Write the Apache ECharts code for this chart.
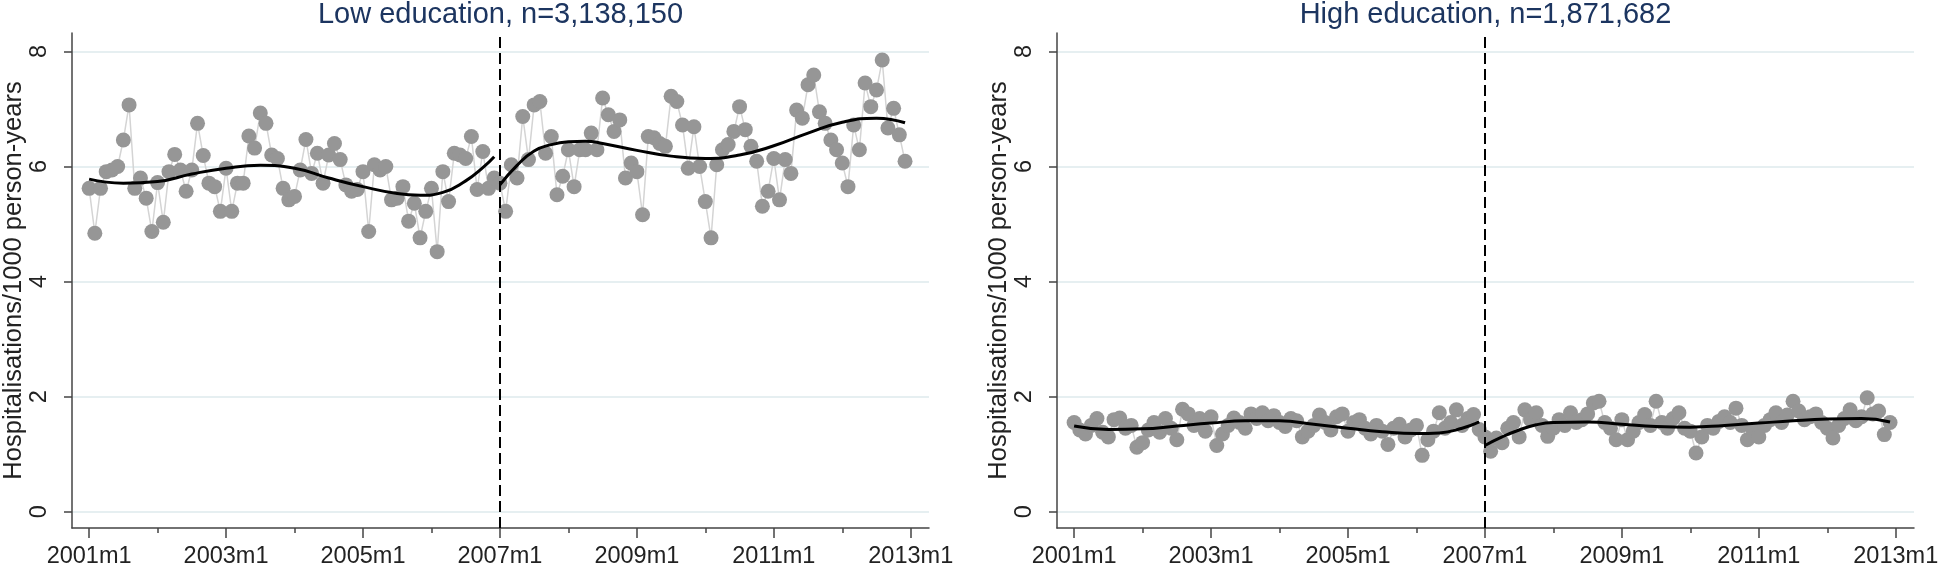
<!DOCTYPE html>
<html><head><meta charset="utf-8">
<script src="https://cdn.jsdelivr.net/npm/echarts@6/dist/echarts.min.js"></script>
<style>html,body{margin:0;padding:0;background:#fff}#c{width:1943px;height:572px}</style>
</head><body><div id="c"></div>
<script>
const panelTitles = ['Low education, n=3,138,150', 'High education, n=1,871,682'];
const yAxisTitle = 'Hospitalisations/1000 person-years';
const xTickMonths = [0, 24, 48, 72, 96, 120, 144];
const xTickLabels = ['2001m1', '2003m1', '2005m1', '2007m1', '2009m1', '2011m1', '2013m1'];
const xMinorTickMonths = [12, 36, 60, 84, 108, 132];
const yTicks = [0, 2, 4, 6, 8];
const interruptionMonth = 72;

// monthly rates, 2001m1 .. 2012m12
const lowEdRates = [
  5.62, 4.84, 5.62, 5.91, 5.94, 6.00, 6.46, 7.07, 5.62, 5.80,
  5.45, 4.87, 5.72, 5.03, 5.91, 6.21, 5.94, 5.57, 5.94, 6.75,
  6.19, 5.71, 5.65, 5.22, 5.97, 5.22, 5.71, 5.71, 6.53, 6.32,
  6.93, 6.75, 6.20, 6.14, 5.62, 5.42, 5.48, 5.94, 6.47, 5.88,
  6.23, 5.71, 6.20, 6.40, 6.12, 5.68, 5.57, 5.60, 5.91, 4.87,
  6.03, 5.94, 6.00, 5.42, 5.45, 5.65, 5.05, 5.36, 4.76, 5.22,
  5.62, 4.52, 5.91, 5.39, 6.23, 6.20, 6.14, 6.52, 5.60, 6.26,
  5.62, 5.80, 5.71, 5.22, 6.03, 5.80, 6.87, 6.12, 7.07, 7.13,
  6.23, 6.52, 5.51, 5.83, 6.29, 5.65, 6.29, 6.29, 6.58, 6.29,
  7.19, 6.90, 6.61, 6.81, 5.80, 6.06, 5.91, 5.16, 6.52, 6.50,
  6.40, 6.35, 7.22, 7.13, 6.72, 5.97, 6.69, 6.00, 5.39, 4.76,
  6.03, 6.29, 6.38, 6.61, 7.04, 6.64, 6.35, 6.09, 5.31, 5.57,
  6.14, 5.42, 6.12, 5.88, 6.98, 6.84, 7.42, 7.59, 6.95, 6.75,
  6.46, 6.29, 6.06, 5.65, 6.72, 6.29, 7.45, 7.04, 7.33, 7.85,
  6.67, 7.01, 6.55, 6.09
];
const highEdRates = [
  1.55, 1.42, 1.35, 1.50, 1.62, 1.38, 1.30, 1.60, 1.63, 1.45,
  1.50, 1.12, 1.20, 1.42, 1.55, 1.38, 1.62, 1.45, 1.25, 1.78,
  1.70, 1.50, 1.62, 1.40, 1.65, 1.15, 1.35, 1.50, 1.63, 1.55,
  1.45, 1.70, 1.62, 1.72, 1.58, 1.67, 1.55, 1.48, 1.62, 1.58,
  1.30, 1.40, 1.50, 1.68, 1.55, 1.42, 1.65, 1.70, 1.40, 1.55,
  1.60, 1.45, 1.35, 1.50, 1.40, 1.17, 1.45, 1.52, 1.30, 1.42,
  1.50, 0.98, 1.25, 1.40, 1.72, 1.45, 1.55, 1.77, 1.50, 1.62,
  1.69, 1.43, 1.30, 1.05, 1.28, 1.20, 1.45, 1.55, 1.30, 1.77,
  1.60, 1.72, 1.50, 1.31, 1.45, 1.60, 1.50, 1.72, 1.55, 1.60,
  1.70, 1.89, 1.92, 1.55, 1.45, 1.25, 1.60, 1.25, 1.40, 1.55,
  1.69, 1.50, 1.92, 1.55, 1.45, 1.62, 1.72, 1.45, 1.40, 1.02,
  1.30, 1.50, 1.45, 1.57, 1.65, 1.55, 1.80, 1.50, 1.25, 1.42,
  1.30, 1.50, 1.60, 1.72, 1.55, 1.68, 1.92, 1.75, 1.60, 1.65,
  1.70, 1.55, 1.45, 1.28, 1.50, 1.62, 1.77, 1.58, 1.65, 1.98,
  1.70, 1.75, 1.34, 1.55
];

// fitted segmented trend, [month index, value]
const lowEdFitPre = [[0,5.78],[6,5.71],[12,5.74],[18,5.87],[24,5.97],[30,6.02],[36,5.97],[42,5.80],[48,5.65],[54,5.53],[58,5.50],[62,5.55],[66,5.75],[69,5.98],[71,6.17]];
const lowEdFitPost = [[72,5.68],[75,6.02],[78,6.27],[81,6.38],[84,6.43],[87,6.44],[90,6.40],[96,6.28],[102,6.18],[108,6.14],[114,6.20],[120,6.36],[126,6.58],[132,6.77],[138,6.84],[143,6.76]];
const highEdFitPre = [[0,1.49],[6,1.43],[12,1.44],[18,1.49],[24,1.54],[30,1.58],[36,1.58],[42,1.52],[48,1.45],[54,1.39],[60,1.36],[64,1.37],[68,1.45],[71,1.56]];
const highEdFitPost = [[72,1.15],[75,1.30],[78,1.42],[81,1.51],[84,1.55],[90,1.56],[96,1.52],[102,1.48],[108,1.47],[114,1.50],[120,1.54],[126,1.58],[132,1.61],[138,1.62],[143,1.56]];

const panels = [
  {title: panelTitles[0], rates: lowEdRates, pre: lowEdFitPre, post: lowEdFitPost},
  {title: panelTitles[1], rates: highEdRates, pre: highEdFitPre, post: highEdFitPost}
];

const FONT = 'Liberation Sans, Arial, sans-serif';
const AXIS_COLOR = '#444';
const TEXT_COLOR = '#222';
const gridLefts = [72, 1057];
const gridWidth = 857;

const option = {
  animation: false,
  backgroundColor: '#fff',
  title: [], grid: [], xAxis: [], yAxis: [], series: []
};

panels.forEach((p, i) => {
  option.title.push({
    text: p.title,
    left: gridLefts[i] + gridWidth / 2,
    top: 0,
    padding: 0,
    textAlign: 'center',
    textStyle: {fontFamily: FONT, fontSize: 29, fontWeight: 'normal', color: '#1c3560'}
  });
  option.grid.push({left: gridLefts[i], width: gridWidth, top: 33, bottom: 44, containLabel: false});
  option.xAxis.push({
    type: 'value', gridIndex: i, min: -3, max: 147.2, position: 'bottom',
    axisLine: {show: true, onZero: false, lineStyle: {color: AXIS_COLOR, width: 1.5}},
    axisTick: {show: true, customValues: xTickMonths, length: 10, lineStyle: {color: AXIS_COLOR, width: 1.5}},
    axisLabel: {show: true, customValues: xTickMonths, margin: 17,
      formatter: v => xTickLabels[xTickMonths.indexOf(Math.round(v))] || '',
      fontFamily: FONT, fontSize: 23.5, color: TEXT_COLOR},
    splitLine: {show: false}
  });
  option.xAxis.push({
    type: 'value', gridIndex: i, min: -3, max: 147.2, position: 'bottom',
    axisLine: {show: false, onZero: false},
    axisTick: {show: true, customValues: xMinorTickMonths, length: 5, lineStyle: {color: AXIS_COLOR, width: 1.5}},
    axisLabel: {show: false},
    splitLine: {show: false}
  });
  option.yAxis.push({
    type: 'value', gridIndex: i, min: -0.283, max: 8.32,
    name: yAxisTitle, nameLocation: 'middle', nameRotate: 90, nameGap: 39,
    nameTextStyle: {fontFamily: FONT, fontSize: 25.5, color: TEXT_COLOR},
    axisLine: {show: true, onZero: false, lineStyle: {color: AXIS_COLOR, width: 1.5}},
    axisTick: {show: true, customValues: yTicks, length: 8, lineStyle: {color: AXIS_COLOR, width: 1.5}},
    axisLabel: {show: true, customValues: yTicks, rotate: 90, margin: 20,
      fontFamily: FONT, fontSize: 23.5, color: TEXT_COLOR},
    splitLine: {show: true, lineStyle: {color: '#e6eff1', width: 2}}
  });
  option.series.push({
    type: 'line', xAxisIndex: i * 2, yAxisIndex: i,
    data: p.rates.map((v, m) => [m, v]),
    symbol: 'circle', symbolSize: 15, showSymbol: true,
    itemStyle: {color: '#969696'},
    lineStyle: {color: '#d4d4d4', width: 1.5},
    z: 2, silent: true
  });
  [p.pre, p.post].forEach((seg, k) => {
    const s = {
      type: 'line', xAxisIndex: i * 2, yAxisIndex: i,
      data: seg, smooth: 0.5, showSymbol: false, symbol: 'none',
      lineStyle: {color: '#000', width: 3},
      z: 3, silent: true
    };
    if (k === 0) {
      s.markLine = {
        silent: true, symbol: 'none', label: {show: false},
        lineStyle: {color: '#000', width: 2, type: [11, 5]},
        data: [{xAxis: interruptionMonth}]
      };
    }
    option.series.push(s);
  });
});

const chart = echarts.init(document.getElementById('c'), null, {renderer: 'canvas'});
chart.setOption(option);
</script>
</body></html>
